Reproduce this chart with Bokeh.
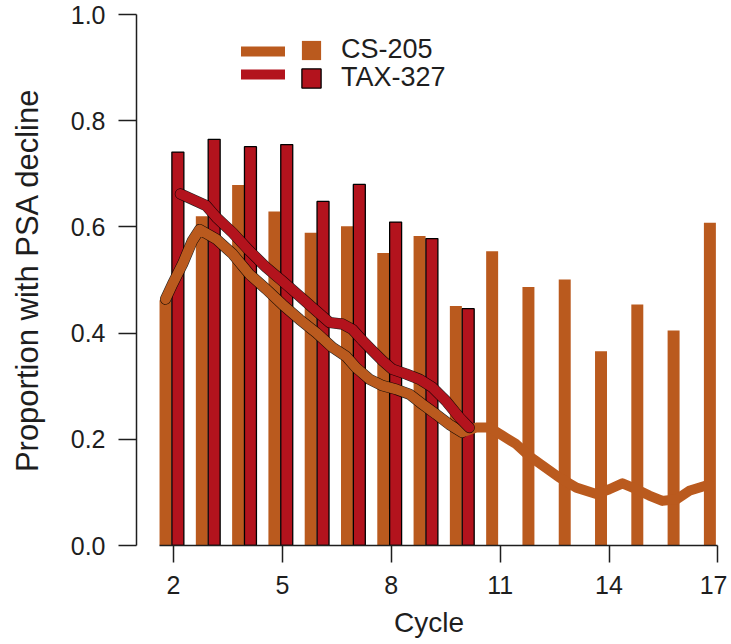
from bokeh.plotting import figure
from bokeh.models import (Range1d, FixedTicker, PrintfTickFormatter, Legend,
                          LegendItem, ColumnDataSource)
from bokeh.transform import dodge
from bokeh.embed import file_html
from bokeh.resources import INLINE

# ---------------- data ----------------
cs205_cycle = [2, 3, 4, 5, 6, 7, 8, 9, 10, 11, 12, 13, 14, 15, 16, 17]
cs205_prop = [0.462, 0.620, 0.679, 0.629, 0.589, 0.601, 0.551, 0.583,
              0.451, 0.554, 0.487, 0.501, 0.366, 0.454, 0.405, 0.608]

tax327_cycle = [2, 3, 4, 5, 6, 7, 8, 9, 10]
tax327_prop = [0.741, 0.765, 0.751, 0.755, 0.648, 0.680, 0.609, 0.578, 0.446]

# smoothed curves
cs205_smooth_cycle = [2.0, 2.19, 2.47, 2.74, 2.94, 3.40, 3.85, 4.31, 4.77, 5.22,
                      5.69, 6.15, 6.60, 6.98, 7.25, 7.62, 7.98, 8.36, 8.72, 9.08,
                      9.46, 9.82, 10.18, 10.56, 10.93, 11.28, 11.66, 12.03, 12.85,
                      13.32, 13.87, 14.23, 14.59, 14.97, 15.33, 15.69, 16.08,
                      16.43, 16.90, 17.0]
cs205_smooth = [0.464, 0.492, 0.530, 0.574, 0.595, 0.577, 0.549, 0.511, 0.483,
                0.454, 0.426, 0.401, 0.373, 0.356, 0.335, 0.313, 0.301, 0.294,
                0.285, 0.266, 0.247, 0.228, 0.213, 0.222, 0.222, 0.207, 0.191,
                0.168, 0.128, 0.109, 0.097, 0.106, 0.117, 0.106, 0.094, 0.084,
                0.087, 0.103, 0.113, 0.113]

tax327_smooth_cycle = [2.07, 2.40, 2.78, 3.06, 3.51, 3.97, 4.43, 4.88, 5.35,
                       5.81, 6.18, 6.54, 6.81, 7.09, 7.36, 7.64, 7.91, 8.29,
                       8.66, 9.01, 9.39, 9.76, 10.03]
tax327_smooth = [0.662, 0.652, 0.640, 0.618, 0.589, 0.555, 0.524, 0.498, 0.470,
                 0.442, 0.420, 0.417, 0.407, 0.386, 0.367, 0.348, 0.332, 0.323,
                 0.313, 0.298, 0.272, 0.241, 0.222]

x_ticks = [2, 5, 8, 11, 14, 17]
y_ticks = [0.0, 0.2, 0.4, 0.6, 0.8, 1.0]

# ---------------- style ----------------
ORANGE = "#BA5A1E"
RED = "#B3131D"
INK = "#1e1e1e"
FONT = "Liberation Sans"
CS_OFF = -0.22
TAX_OFF = 0.12
BAR_W = 0.33

p = figure(frame_width=585, frame_height=531,
           x_range=Range1d(0.98, 17.1), y_range=Range1d(0.0, 1.0),
           output_backend="svg", toolbar_location=None,
           min_border_left=136, min_border_right=6,
           min_border_top=14, min_border_bottom=80)
p.outline_line_color = None
p.xgrid.visible = False
p.ygrid.visible = False
p.background_fill_color = "white"
p.border_fill_color = "white"

src_cs = ColumnDataSource(dict(cycle=cs205_cycle, prop=cs205_prop))
src_tax = ColumnDataSource(dict(cycle=tax327_cycle, prop=tax327_prop))

r_bar_cs = p.vbar(x=dodge("cycle", CS_OFF, range=p.x_range), top="prop", bottom=0,
                  width=BAR_W, source=src_cs, fill_color=ORANGE, line_color=None)
r_bar_tax = p.vbar(x=dodge("cycle", TAX_OFF, range=p.x_range), top="prop", bottom=0,
                   width=BAR_W, source=src_tax, fill_color=RED,
                   line_color="black", line_width=1.3)

src_cs_line = ColumnDataSource(dict(cycle=cs205_smooth_cycle, prop=cs205_smooth))
src_tax_line = ColumnDataSource(dict(cycle=tax327_smooth_cycle, prop=tax327_smooth))
cs_case = [(c, v) for c, v in zip(cs205_smooth_cycle, cs205_smooth) if c <= 10.4]
src_cs_case = ColumnDataSource(dict(cycle=[c for c, _ in cs_case],
                                     prop=[v for _, v in cs_case]))

p.line(x=dodge("cycle", CS_OFF, range=p.x_range), y="prop", source=src_cs_case,
       line_color="black", line_width=11.2, line_alpha=0.85,
       line_join="round", line_cap="round")
r_line_cs = p.line(x=dodge("cycle", CS_OFF, range=p.x_range), y="prop",
                   source=src_cs_line, line_color=ORANGE, line_width=10,
                   line_join="round", line_cap="round")
p.line(x=dodge("cycle", TAX_OFF, range=p.x_range), y="prop", source=src_tax_line,
       line_color="black", line_width=11.2, line_alpha=0.85,
       line_join="round", line_cap="round")
r_line_tax = p.line(x=dodge("cycle", TAX_OFF, range=p.x_range), y="prop",
                    source=src_tax_line, line_color=RED, line_width=10,
                    line_join="round", line_cap="round")

# axes
for ax in (p.xaxis[0], p.yaxis[0]):
    ax.axis_line_color = INK
    ax.axis_line_width = 1.5
    ax.major_tick_line_color = INK
    ax.major_tick_line_width = 1.5
    ax.minor_tick_line_color = None
    ax.major_tick_in = 0
    ax.major_label_text_font = FONT
    ax.major_label_text_font_size = "25px"
    ax.major_label_text_color = INK
    ax.axis_label_text_font = FONT
    ax.axis_label_text_font_style = "normal"
    ax.axis_label_text_color = INK

p.xaxis.ticker = FixedTicker(ticks=x_ticks)
p.xaxis.bounds = (1.62, 17)
p.xaxis.major_tick_out = 17
p.xaxis.major_label_standoff = 13
p.xaxis.axis_label = "Cycle"
p.xaxis.axis_label_text_font_size = "28px"
p.xaxis.axis_label_standoff = 10

p.yaxis.ticker = FixedTicker(ticks=y_ticks)
p.yaxis.formatter = PrintfTickFormatter(format="%.1f")
p.yaxis.bounds = (0, 1)
p.yaxis.major_tick_out = 18
p.yaxis.major_label_standoff = 13
p.yaxis.axis_label = "Proportion with PSA decline"
p.yaxis.axis_label_text_font_size = "31px"
p.yaxis.axis_label_standoff = 23

# legend: one row per legend (line sample, then box with label)
common = dict(padding=0, margin=0, border_line_alpha=0, background_fill_alpha=0,
              label_text_font=FONT, label_text_color=INK, glyph_height=24)
line_rows = [(r_line_cs, 482), (r_line_tax, 459)]
box_rows = [(r_bar_cs, "CS-205", 480), (r_bar_tax, "TAX-327", 452)]
for rend, vy in line_rows:
    p.add_layout(Legend(items=[LegendItem(label=" ", renderers=[rend])],
                        location=(105, vy), glyph_width=44, label_standoff=0,
                        label_text_font_size="1px", label_height=1, **common),
                 "center")
for rend, lab, vy in box_rows:
    p.add_layout(Legend(items=[LegendItem(label=lab, renderers=[rend])],
                        location=(163, vy), glyph_width=24, label_standoff=18,
                        label_text_font_size="27px", **common),
                 "center")

open("out.html", "w").write(file_html(p, INLINE))
